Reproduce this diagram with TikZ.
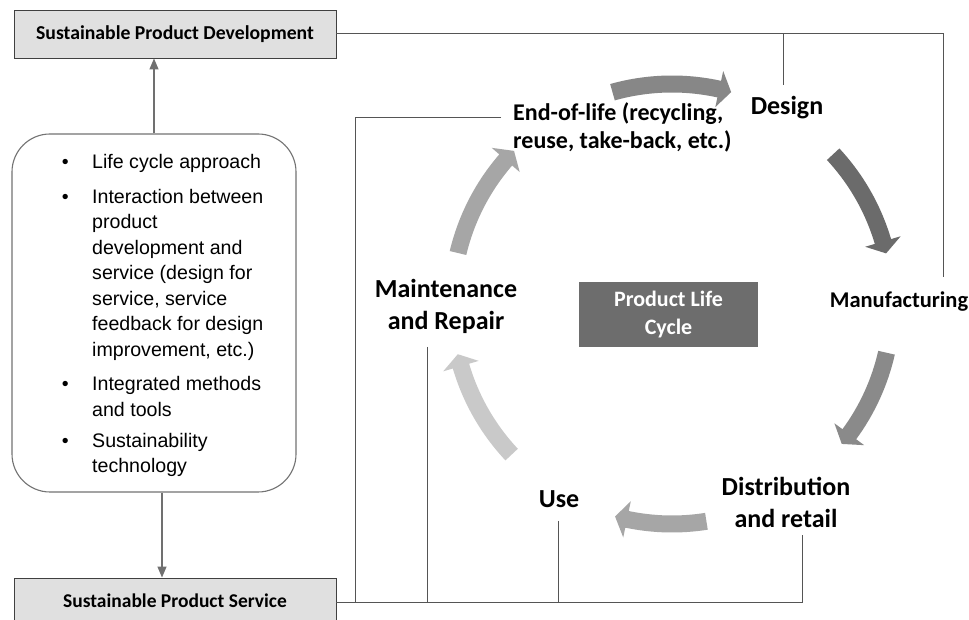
\documentclass[tikz,border=0pt]{standalone}
\usepackage{fontspec}
\setmainfont{Carlito}
\newfontfamily\arialfont{Liberation Sans}
\usepackage{tikz}
\usetikzlibrary{arrows.meta}
\usetikzlibrary{positioning}
\usetikzlibrary{calc}
\definecolor{linegray}{HTML}{555555}
\definecolor{flowgray}{HTML}{707070}
\definecolor{boxfill}{HTML}{E0E0E0}
\definecolor{plcfill}{HTML}{6D6D6D}
\tikzstyle{titlebox}=[draw=black!75,fill=boxfill,minimum width=322pt,minimum height=48pt,inner sep=0pt,line width=0.9pt]
\tikzstyle{stage}=[font=\bfseries\fontsize{26}{32}\selectfont,align=center,inner sep=0pt]
\tikzstyle{link}=[draw=linegray,line width=1pt]
\tikzstyle{flow}=[draw=flowgray,line width=1.3pt,-{Triangle[length=11pt,width=9pt]}]
% curved block arrow on the cycle: tail angle, tip angle, colour
\newcommand{\cyclearrow}[3]{%
  \fill[#3,shift={(cc)}] (#1:228.5pt) arc[start angle=#1,end angle={#2+3.2},radius=228.5pt]
    -- ({#2+3.2}:238.5pt) -- (#2:220pt) -- ({#2+3.2}:201.5pt)
    -- ({#2+3.2}:211.5pt) arc[start angle={#2+3.2},end angle=#1,radius=211.5pt] -- cycle;}

\begin{document}
\begin{tikzpicture}[x=1pt,y=1pt]
\clip (0,0) rectangle (969,620);
\fill[white] (0,0) rectangle (969,620);
\coordinate (cc) at (672,316);

\node[titlebox,font=\bfseries\fontsize{19.7}{23}\selectfont] (devbox) at (175,586) {Sustainable Product Development};
\node[titlebox,minimum height=50pt,font=\bfseries\fontsize{19.5}{23}\selectfont] (servbox) at (175,17) {\raisebox{4pt}{Sustainable Product Service}};

\node[draw=black!55,line width=1.1pt,rounded corners=38pt,minimum width=284pt,minimum height=358pt] (list) at (154,307) {};
\node[anchor=north west,inner sep=0pt] (listtext) at (61.7,469.4) {\arialfont\fontsize{19.6}{25.5}\selectfont
  \begin{tabular}{@{}p{30.3pt}@{}l@{}}
  \textbullet & Life cycle approach\\[9pt]
  \textbullet & Interaction between\\
   & product\\
   & development and\\
   & service (design for\\
   & service, service\\
   & feedback for design\\
   & improvement, etc.)\\[9pt]
  \textbullet & Integrated methods\\
   & and tools\\[5.5pt]
  \textbullet & Sustainability\\
   & technology
  \end{tabular}};

\draw[flow] (list.north) -- (list.north |- devbox.south);
\draw[flow] ([xshift=8pt]list.south) -- ([xshift=8pt]list.south |- servbox.north);

% life cycle
\node[fill=plcfill,text=white,minimum width=179pt,minimum height=65pt,inner sep=0pt,align=center,
  font=\bfseries\fontsize{22}{28}\selectfont] (plc) at (668.5,305.5) {Product Life\\Cycle};
\node[stage] (design) at (787,512) {Design};
\node[stage,anchor=west,align=left,font=\bfseries\fontsize{24}{28}\selectfont] (eol) at (513,493) {End-of-life (recycling,\\reuse, take-back, etc.)};
\node[stage,font=\bfseries\fontsize{22.5}{26}\selectfont] (manuf) at (899,318) {Manufacturing};
\node[stage] (distr) at (786,118) {Distribution\\and retail};
\node[stage] (use) at (559,121) {Use};
\node[stage] (maint) at (446,314) {Maintenance\\and Repair};

\cyclearrow{105.7}{74.4}{black!47}
\cyclearrow{42.9}{13.3}{black!58}
\cyclearrow{-12.8}{-39.5}{black!46}
\cyclearrow{-81}{-105}{black!35}
\cyclearrow{223.2}{193.2}{black!21}
\cyclearrow{166.6}{135.9}{black!35}

% connectors
\coordinate (dstop) at (783,535);
\coordinate (mfend) at (943,343);
\coordinate (eolend) at (501,502);
\coordinate (eolcorner) at (355,502);
\coordinate (mtend) at (427,273);
\coordinate (useend) at (558,99);
\coordinate (dsend) at (802,85);
\draw[link] (devbox.east) -| (mfend);
\draw[link] (dstop) -- (dstop |- devbox.east);
\draw[link] (servbox.east) -| (dsend);
\draw[link] (eolend) -- (eolcorner) -- (eolcorner |- servbox.east);
\draw[link] (mtend) -- (mtend |- servbox.east);
\draw[link] (useend) -- (useend |- servbox.east);
\end{tikzpicture}
\end{document}
